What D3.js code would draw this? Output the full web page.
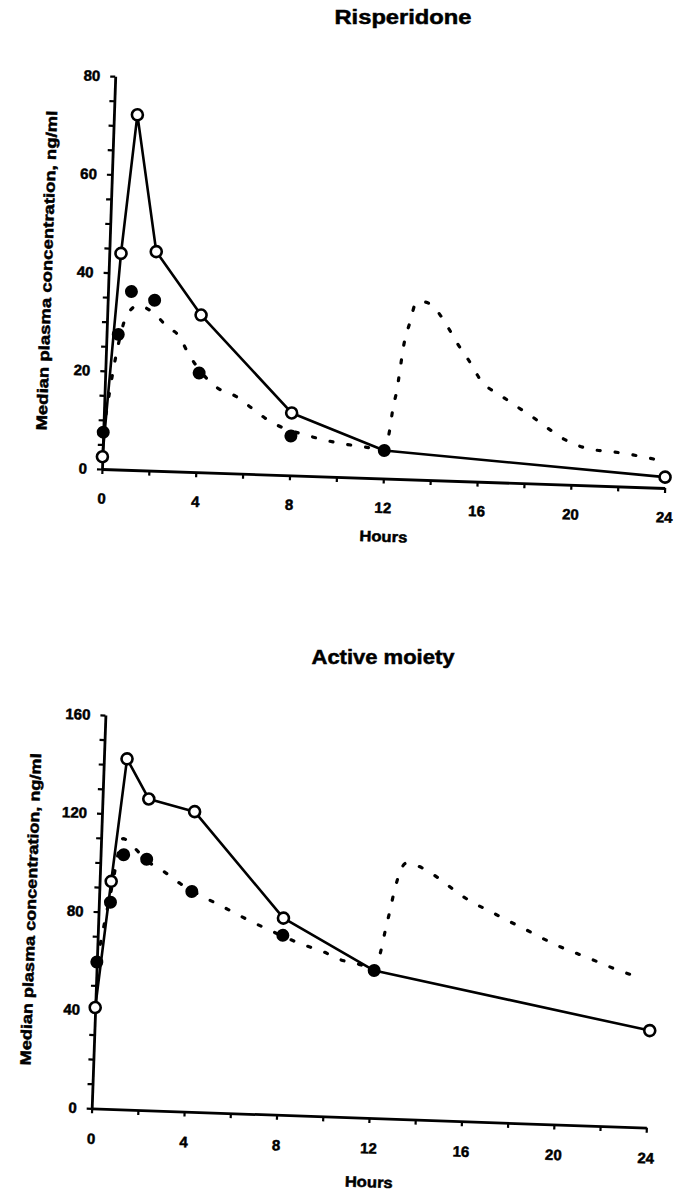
<!DOCTYPE html>
<html>
<head>
<meta charset="utf-8">
<script src="https://cdn.jsdelivr.net/npm/d3@7"></script>
<style>
body { margin: 0; background: #fff; }
text { font-family: "Liberation Sans", Arial, sans-serif; font-weight: bold; fill: #000; stroke: #000; stroke-width: 0.5px; }
</style>
</head>
<body>
<div id="chart-area"></div>
<script>
// sampling times (hours)
var openHours = [0, 0.5, 1, 2, 4, 8, 12, 24];
var filledHours = [0, 0.5, 1, 2, 4, 8, 12];

// Risperidone, median plasma concentration (ng/ml)
var risOpen = [2.5, 44, 72.3, 44.6, 32, 12.7, 5.7, 2.2];
var risFilled = [7.5, 27.5, 36.3, 34.7, 20.2, 8.0, 5.7];
var risCurveHours = [0, 0.5, 0.8, 1.3, 2.0, 2.55, 3.1, 3.5, 4.8, 5.6, 6.3, 7.0, 8.9, 9.8, 10.7, 11.5, 12.0,
	12.2, 12.3, 12.45, 12.55, 12.65, 12.9, 13.15, 13.5, 14.0, 14.55, 15.0, 15.5, 16.05, 16.85, 17.6, 18.25,
	18.95, 19.7, 20.9, 21.75, 22.6, 23.5];
var risCurveConc = [7.5, 25, 31, 33.5, 32, 29.5, 27.5, 24.2, 17.3, 15.7, 13.4, 11.1, 8.0, 7.1, 6.5, 6.1, 5.8,
	9.9, 14, 18.1, 22, 26.3, 31.8, 36, 36.2, 34.7, 31.1, 27.7, 24.4, 20.4, 17.8, 15.5, 13.6,
	11.3, 9.1, 7.3, 7.0, 6.5, 5.8];

// Active moiety
var actOpen = [41, 92.5, 142.5, 126.5, 122, 80, 60, 39.5];
var actFilled = [59.5, 84, 103.5, 102, 89.5, 73, 60];
var actCurveHours = [0, 0.5, 0.95, 1.5, 2.0, 2.8, 3.5, 4.85, 5.6, 6.35, 7.15, 8.95, 9.75, 10.5, 11.45, 12.0,
	12.25, 12.4, 12.58, 12.76, 13.0, 13.2, 13.6, 14.05, 14.8, 15.5, 16.1, 16.85, 17.6, 18.35, 19.15,
	20.0, 20.85, 21.65, 22.45, 23.3];
var actCurveConc = [59.5, 88, 110, 106, 101.5, 97, 92.5, 86, 82.7, 79.3, 76, 69.3, 67, 64, 62, 60,
	67.7, 75.4, 84, 93, 101.2, 104, 103.5, 101.8, 97.4, 92.7, 89.3, 86, 82.6, 79.4, 75.8,
	72.3, 69.4, 66.7, 63.9, 61.4];

// ticks
var xTicks = [0, 2, 4, 6, 8, 10, 12, 14, 16, 18, 20, 22, 24];
var xLabels = [0, 4, 8, 12, 16, 20, 24];
var risYTicks = [0, 5, 10, 15, 20, 25, 30, 35, 40, 45, 50, 55, 60, 65, 70, 75, 80];
var risYLabels = [0, 20, 40, 60, 80];
var actYTicks = [0, 10, 20, 30, 40, 50, 60, 70, 80, 90, 100, 110, 120, 130, 140, 150, 160];
var actYLabels = [0, 40, 80, 120, 160];

var svg = d3.select("#chart-area")
	.append("svg")
		.attr("width", 678)
		.attr("height", 1193);

function zip(xs, ys) {
	return xs.map(function(h, i){ return { h: h, c: ys[i] }; });
}

function panel(p) {
	// scanned page is slightly tilted, so the plot is rotated about its origin
	var g = svg.append("g")
		.attr("transform", "translate(" + p.ox + "," + p.oy + ") rotate(" + p.angle + ") translate(0," + (-p.height) + ")");

	var x = d3.scaleLinear().domain([0, 24]).range([0, p.width]);
	var y = d3.scaleLinear().domain([0, p.ymax]).range([p.height, 0]);

	var xAxisCall = d3.axisBottom(x)
		.tickValues(xTicks)
		.tickSize(5)
		.tickSizeOuter(0)
		.tickPadding(p.xPad)
		.tickFormat(function(d){ return xLabels.indexOf(d) >= 0 ? d : ""; });
	var xg = g.append("g")
		.attr("transform", "translate(0," + p.height + ")")
		.call(xAxisCall);

	var yAxisCall = d3.axisLeft(y)
		.tickValues(p.yTicks)
		.tickSize(5)
		.tickSizeOuter(0)
		.tickPadding(10)
		.tickFormat(function(d){ return p.yLabels.indexOf(d) >= 0 ? d : ""; });
	var yg = g.append("g").call(yAxisCall);

	[xg, yg].forEach(function(a){
		a.select(".domain").attr("stroke", "#000").attr("stroke-width", 2.8);
		a.selectAll(".tick line").attr("stroke", "#000").attr("stroke-width", 2.2);
		a.selectAll(".tick text")
			.attr("font-size", "15px")
			.attr("font-weight", "bold")
			.attr("font-family", "'Liberation Sans', Arial, sans-serif")
			.attr("fill", "#000");
	});

	// Y label
	g.append("text")
		.attr("transform", "rotate(-90)")
		.attr("x", -p.height / 2)
		.attr("y", p.yLabelX)
		.attr("dy", "0.35em")
		.attr("font-size", "15px")
		.attr("text-anchor", "middle")
		.attr("textLength", p.yLabelLen)
		.attr("lengthAdjust", "spacingAndGlyphs")
		.text("Median plasma concentration, ng/ml");

	// X label
	g.append("text")
		.attr("x", x(12) + 2)
		.attr("y", p.height + p.hoursY)
		.attr("dy", "0.35em")
		.attr("font-size", "15px")
		.attr("text-anchor", "middle")
		.attr("textLength", 48)
		.attr("lengthAdjust", "spacingAndGlyphs")
		.text("Hours");

	var line = d3.line()
		.x(function(d){ return x(d.h); })
		.y(function(d){ return y(d.c); });

	g.append("path")
		.datum(zip(p.curveHours, p.curveConc))
		.attr("fill", "none")
		.attr("stroke", "#000")
		.attr("stroke-width", 3.2)
		.attr("stroke-linecap", "round")
		.attr("stroke-dasharray", "3,15")
		.attr("d", line.curve(d3.curveMonotoneX));

	g.append("path")
		.datum(zip(openHours, p.open))
		.attr("fill", "none")
		.attr("stroke", "#000")
		.attr("stroke-width", 2.6)
		.attr("stroke-linejoin", "round")
		.attr("d", line.curve(d3.curveLinear));

	g.selectAll("circle.filled")
		.data(zip(filledHours, p.filled))
		.enter().append("circle")
			.attr("class", "filled")
			.attr("cx", function(d){ return x(d.h); })
			.attr("cy", function(d){ return y(d.c); })
			.attr("r", 6.5)
			.attr("fill", "#000");

	g.selectAll("circle.open")
		.data(zip(openHours, p.open).filter(function(d){ return d.h !== 12; }))
		.enter().append("circle")
			.attr("class", "open")
			.attr("cx", function(d){ return x(d.h); })
			.attr("cy", function(d){ return y(d.c); })
			.attr("r", 5.5)
			.attr("fill", "#fff")
			.attr("stroke", "#000")
			.attr("stroke-width", 2.6);

	// Title
	svg.append("text")
		.attr("x", p.titleX)
		.attr("y", p.titleY)
		.attr("font-size", "20px")
		.attr("text-anchor", "middle")
		.attr("textLength", p.titleLen)
		.attr("lengthAdjust", "spacingAndGlyphs")
		.text(p.title);
}

panel({
	title: "Risperidone", titleX: 403, titleY: 24, titleLen: 137,
	ox: 102, oy: 469, angle: 1.93, width: 563, height: 393, ymax: 80,
	yTicks: risYTicks, yLabels: risYLabels, xPad: 19, yLabelX: -62, yLabelLen: 320, hoursY: 58,
	open: risOpen, filled: risFilled, curveHours: risCurveHours, curveConc: risCurveConc
});

panel({
	title: "Active moiety", titleX: 383, titleY: 664, titleLen: 143,
	ox: 91.7, oy: 1108.3, angle: 2.0, width: 555, height: 393.5, ymax: 160,
	yTicks: actYTicks, yLabels: actYLabels, xPad: 20, yLabelX: -68, yLabelLen: 312, hoursY: 64,
	open: actOpen, filled: actFilled, curveHours: actCurveHours, curveConc: actCurveConc
});
</script>
</body>
</html>
